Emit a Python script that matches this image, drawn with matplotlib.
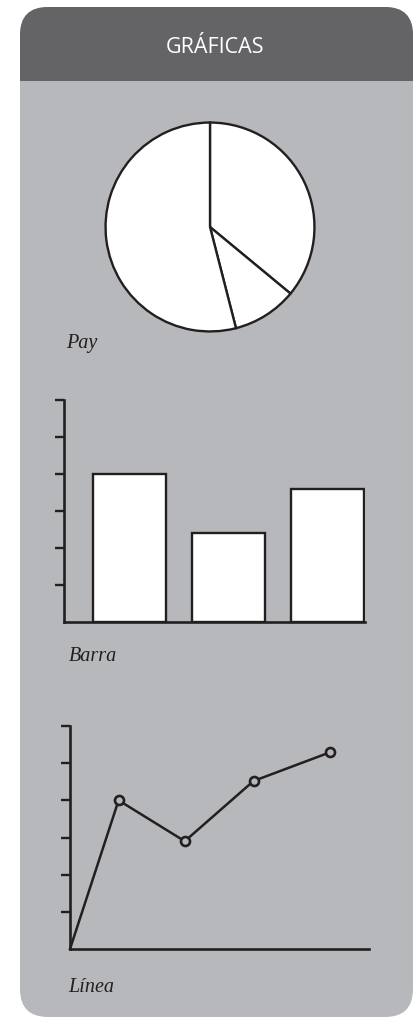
import matplotlib
matplotlib.use("Agg")
import matplotlib.pyplot as plt
from matplotlib.patches import FancyBboxPatch, Rectangle

# data
pie_values = [36, 10, 54]
bar_values = [4.0, 2.4, 3.6]
line_x = [0, 1.3, 3.07, 4.91, 6.95]
line_y = [0, 4.0, 2.9, 4.52, 5.29]

W, H = 417, 1018
header_col = "#646466"
body_col = "#b7b8bb"
ink = "#231f20"
lw = 1.7

fig = plt.figure(figsize=(W / 100, H / 100), dpi=100)
fig.patch.set_facecolor("white")


def px_axes(left, top, right, bottom):
    return fig.add_axes([left / W, 1 - bottom / H, (right - left) / W, (bottom - top) / H])


# background panel in pixel coordinates
bg = fig.add_axes([0, 0, 1, 1])
bg.set_xlim(0, W)
bg.set_ylim(H, 0)
bg.axis("off")
bg.add_patch(FancyBboxPatch((20, 7), 393, 1010, boxstyle="round,pad=0,rounding_size=28",
                            fc=body_col, ec="none"))
bg.add_patch(FancyBboxPatch((20, 7), 393, 110, boxstyle="round,pad=0,rounding_size=28",
                            fc=header_col, ec="none"))
bg.add_patch(Rectangle((20, 81), 393, 60, fc=body_col, ec="none"))
bg.text(215, 53, "GRÁFICAS", color="white", fontsize=15.5, family="Open Sans",
        ha="center", va="baseline")

label_kw = dict(fontsize=14.5, family="Liberation Serif", style="italic", color=ink, va="baseline")
bg.text(66, 348, "Pay", **label_kw)
bg.text(69, 661, "Barra", **label_kw)
bg.text(68, 992, "Línea", **label_kw)

# pie
ax1 = px_axes(210 - 105.5, 227 - 105.5, 210 + 105.5, 227 + 105.5)
ax1.pie(pie_values, startangle=90, counterclock=False, colors=["white"] * 3,
        wedgeprops=dict(edgecolor=ink, linewidth=lw))
ax1.set_xlim(-1.01, 1.01)
ax1.set_ylim(-1.01, 1.01)


def style_axes(ax):
    for s in ["top", "right"]:
        ax.spines[s].set_visible(False)
    for s in ["left", "bottom"]:
        ax.spines[s].set_linewidth(lw + 0.2)
        ax.spines[s].set_color(ink)
    ax.set_facecolor("none")
    ax.set_yticks([1, 2, 3, 4, 5, 6])
    ax.set_yticklabels([])
    ax.set_xticks([])
    ax.tick_params(axis="y", direction="out", length=6.5, width=lw, color=ink)
    ax.set_ylim(0, 6)


# bars
ax2 = px_axes(64, 400, 365, 622)
ax2.bar(range(len(bar_values)), bar_values, width=0.74, color="white",
        edgecolor=ink, linewidth=lw)
ax2.set_xlim(-0.667, 2.383)
style_axes(ax2)

# line
ax3 = px_axes(70, 726, 369, 949)
ax3.plot(line_x, line_y, color=ink, linewidth=lw + 0.1, marker="o", markersize=6.5,
         markerfacecolor=body_col, markeredgecolor=ink, markeredgewidth=lw + 0.2,
         markevery=[1, 2, 3, 4], clip_on=False)
ax3.set_xlim(0, 8)
style_axes(ax3)

fig.savefig("out.png", dpi=100, facecolor="white")
